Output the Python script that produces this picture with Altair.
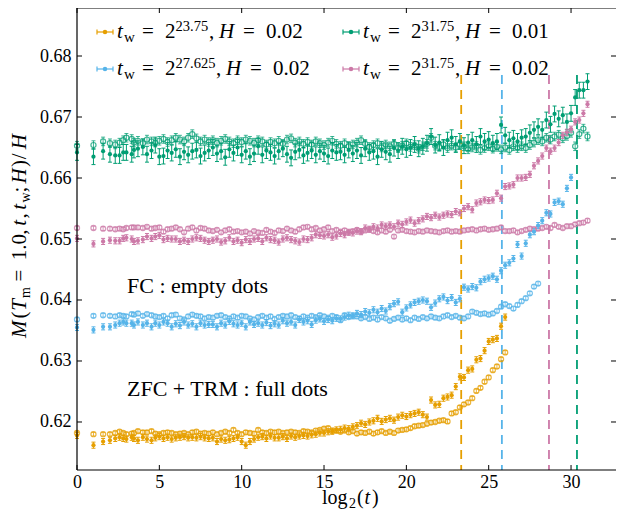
import altair as alt
import pandas as pd

FONT = "Liberation Serif"

# log2(t) sampling grid
X_ALL = [0, 1, 1.585, 2, 2.322, 2.585, 2.807, 3, 3.322, 3.459, 3.7, 4, 4.248, 4.524, 4.755,
         5, 5.25, 5.5, 5.75, 6, 6.25, 6.5, 6.75, 7, 7.25, 7.5, 7.75, 8, 8.25, 8.5, 8.75,
         9, 9.25, 9.5, 9.75, 10, 10.25, 10.5, 10.75, 11, 11.25, 11.5, 11.75, 12, 12.25, 12.5, 12.75,
         13, 13.25, 13.5, 13.75, 14, 14.25, 14.5, 14.75, 15, 15.25, 15.5, 15.75, 16, 16.25, 16.5, 16.75,
         17, 17.25, 17.5, 17.75, 18, 18.25, 18.5, 18.75, 19, 19.25, 19.5, 19.75, 20, 20.25, 20.5, 20.75,
         21, 21.25, 21.5, 21.75, 22, 22.25, 22.5, 22.75, 23, 23.25, 23.5, 23.75, 24, 24.25, 24.5, 24.75,
         25, 25.25, 25.5, 25.75, 26, 26.25, 26.5, 26.75, 27, 27.25, 27.5, 27.75, 28, 28.25, 28.5, 28.75,
         29, 29.25, 29.5, 29.75, 30, 30.25, 30.5, 30.75, 31]

GREEN_FC = [0.6653, 0.6654, 0.6660, 0.6657, 0.6655, 0.6658, 0.6662, 0.6666, 0.6664, 0.6658, 0.6661, 0.6657, 0.6663, 0.6660, 0.6658,
            0.6661, 0.6664, 0.6659, 0.6662,
            0.6666, 0.6663, 0.6660, 0.6666,
            0.6672, 0.6665, 0.6660, 0.6663,
            0.6659, 0.6662, 0.6658, 0.6661,
            0.6664, 0.6660, 0.6657, 0.6662,
            0.6659, 0.6663, 0.6661, 0.6658,
            0.6662, 0.6660, 0.6655, 0.6659,
            0.6657, 0.6661, 0.6656, 0.6663,
            0.6665, 0.6658, 0.6660, 0.6656,
            0.6659, 0.6655, 0.6660, 0.6657,
            0.6654, 0.6658, 0.6661, 0.6656,
            0.6653, 0.6657, 0.6652, 0.6655,
            0.6658, 0.6662, 0.6656, 0.6651,
            0.6654, 0.6657, 0.6650, 0.6655,
            0.6652, 0.6656, 0.6649, 0.6653,
            0.6657, 0.6651, 0.6654, 0.6648,
            0.6652, 0.6656, 0.6666, 0.6653,
            0.6651, 0.6655, 0.6649, 0.6653,
            0.6650, 0.6655, 0.6652, 0.6647,
            0.6650, 0.6653, 0.6646, 0.6649,
            0.6652, 0.6648, 0.6651, 0.6647,
            0.6650, 0.6646, 0.6652, 0.6649,
            0.6652, 0.6649, 0.6654, 0.6658,
            0.6662, 0.6660, 0.6666, 0.6663,
            0.6668, 0.6671, 0.6665, 0.6669,
            0.6674, 0.6652, 0.6672, 0.6681,
            0.6668]

GREEN_ZFC = [0.6642, 0.6635, 0.6644, 0.6639, 0.6637, 0.6637, 0.6642, 0.6642, 0.6639, 0.6646, 0.6648, 0.6651, 0.6639, 0.6645, 0.6654,
             0.6635, 0.6636, 0.6645, 0.6641,
             0.6647, 0.6635, 0.6643, 0.6638,
             0.6644, 0.6646, 0.6636, 0.6641,
             0.6645, 0.6650, 0.6640, 0.6644,
             0.6634, 0.6647, 0.6641, 0.6650,
             0.6638, 0.6644, 0.6635, 0.6640,
             0.6652, 0.6638, 0.6645, 0.6642,
             0.6636, 0.6644, 0.6648, 0.6639,
             0.6633, 0.6643, 0.6646, 0.6637,
             0.6641, 0.6645, 0.6638, 0.6644,
             0.6640, 0.6636, 0.6645, 0.6642,
             0.6643, 0.6638, 0.6646, 0.6640,
             0.6645, 0.6637, 0.6648, 0.6642,
             0.6644, 0.6635, 0.6647, 0.6643,
             0.6639, 0.6649, 0.6645, 0.6652,
             0.6647, 0.6650, 0.6655, 0.6648,
             0.6652, 0.6657, 0.6668, 0.6654,
             0.6658, 0.6650, 0.6662, 0.6666,
             0.6655, 0.6660, 0.6653, 0.6658,
             0.6662, 0.6655, 0.6668, 0.6660,
             0.6663, 0.6657, 0.6660, 0.6687,
             0.6670, 0.6662, 0.6665, 0.6660,
             0.6666, 0.6668, 0.6674, 0.6679,
             0.6684, 0.6679, 0.6695, 0.6688,
             0.6705, 0.6697, 0.6703, 0.6692,
             0.6706, 0.6732, 0.6744, 0.6744,
             0.6758]

PINK_FC = [0.6518, 0.6518, 0.6517, 0.6517, 0.6516, 0.6517, 0.6516, 0.6518, 0.6519, 0.6519, 0.6519, 0.6518, 0.6520, 0.6517, 0.6518,
           0.6519, 0.6512, 0.6516, 0.6517,
           0.6519, 0.6516, 0.6511, 0.6517,
           0.6519, 0.6514, 0.6518, 0.6517,
           0.6514, 0.6513, 0.6515, 0.6511,
           0.6514, 0.6516, 0.6512, 0.6513,
           0.6511, 0.6512, 0.6509, 0.6513,
           0.6511, 0.6510, 0.6515, 0.6512,
           0.6510, 0.6514, 0.6513, 0.6517,
           0.6514, 0.6512, 0.6516, 0.6519,
           0.6520, 0.6516, 0.6518, 0.6514,
           0.6516, 0.6519, 0.6513, 0.6515,
           0.6512, 0.6514, 0.6511, 0.6513,
           0.6515, 0.6512, 0.6514, 0.6516,
           0.6513, 0.6511, 0.6514, 0.6512,
           0.6515, 0.6504, 0.6514, 0.6515,
           0.6513, 0.6512, 0.6511, 0.6513,
           0.6512, 0.6514, 0.6513, 0.6512,
           0.6511, 0.6513, 0.6514, 0.6512,
           0.6513, 0.6512, 0.6514, 0.6515,
           0.6516, 0.6514, 0.6516, 0.6517,
           0.6515, 0.6516, 0.6517, 0.6519,
           0.6513, 0.6513, 0.6514, 0.6511,
           0.6513, 0.6515, 0.6517, 0.6516,
           0.6517, 0.6518, 0.6520, 0.6518,
           0.6523, 0.6520, 0.6518, 0.6521,
           0.6521, 0.6524, 0.6526, 0.6527,
           0.6530]

PINK_ZFC = [0.6501, 0.6492, 0.6496, 0.6498, 0.6497, 0.6497, 0.6501, 0.6502, 0.6500, 0.6496, 0.6497, 0.6499, 0.6504, 0.6501, 0.6504,
            0.6506, 0.6499, 0.6501, 0.6500,
            0.6500, 0.6496, 0.6498, 0.6496,
            0.6500, 0.6502, 0.6501, 0.6498,
            0.6496, 0.6498, 0.6500, 0.6495,
            0.6497, 0.6502, 0.6496, 0.6498,
            0.6494, 0.6499, 0.6496, 0.6500,
            0.6501, 0.6496, 0.6502, 0.6499,
            0.6498, 0.6495, 0.6500, 0.6502,
            0.6499, 0.6497, 0.6495, 0.6500,
            0.6499, 0.6502, 0.6507, 0.6506,
            0.6505, 0.6507, 0.6503, 0.6505,
            0.6509, 0.6507, 0.6511, 0.6510,
            0.6513, 0.6512, 0.6518, 0.6516,
            0.6520, 0.6518, 0.6523, 0.6521,
            0.6523, 0.6520, 0.6526, 0.6524,
            0.6528, 0.6531, 0.6526, 0.6530,
            0.6533, 0.6537, 0.6535, 0.6539,
            0.6536, 0.6539, 0.6541, 0.6540,
            0.6545, 0.6543, 0.6550, 0.6553,
            0.6548, 0.6559, 0.6561, 0.6564,
            0.6563, 0.6564, 0.6575, 0.6567,
            0.6586, 0.6587, 0.6589, 0.6600,
            0.6600, 0.6601, 0.6606, 0.6620,
            0.6628, 0.6636, 0.6649, 0.6644,
            0.6649, 0.6658, 0.6670, 0.6675,
            0.6680, 0.6692, 0.6695, 0.6706,
            0.6721]

BLUE_FC = [0.6368, 0.6374, 0.6375, 0.6374, 0.6373, 0.6375, 0.6374, 0.6373, 0.6377, 0.6376, 0.6378, 0.6374, 0.6377, 0.6375, 0.6373,
           0.6372, 0.6374, 0.6370, 0.6375,
           0.6376, 0.6370, 0.6368, 0.6373,
           0.6376, 0.6374, 0.6373, 0.6370,
           0.6372, 0.6371, 0.6374, 0.6375,
           0.6372, 0.6370, 0.6373, 0.6371,
           0.6374, 0.6373, 0.6370, 0.6368,
           0.6372, 0.6374, 0.6371, 0.6373,
           0.6369, 0.6372, 0.6374, 0.6373,
           0.6375, 0.6372, 0.6370, 0.6373,
           0.6371, 0.6374, 0.6372, 0.6375,
           0.6373, 0.6371, 0.6374, 0.6372,
           0.6367, 0.6375, 0.6372, 0.6374,
           0.6373, 0.6370, 0.6372, 0.6369,
           0.6371, 0.6368, 0.6372, 0.6370,
           0.6366, 0.6369, 0.6371, 0.6368,
           0.6370, 0.6367, 0.6371, 0.6369,
           0.6372, 0.6370, 0.6373, 0.6371,
           0.6370, 0.6373, 0.6375, 0.6372,
           0.6374, 0.6371, 0.6370, 0.6373,
           0.6381, 0.6379, 0.6377, 0.6378,
           0.6376, 0.6378, 0.6382, 0.6389,
           0.6393, 0.6390, 0.6386, 0.6392,
           0.6398, 0.6403, 0.6411, 0.6422,
           0.6427]

BLUE_ZFC = [0.6355, 0.6351, 0.6356, 0.6356, 0.6359, 0.6362, 0.6364, 0.6362, 0.6362, 0.6359, 0.6364, 0.6359, 0.6362, 0.6356, 0.6362,
            0.6359, 0.6364, 0.6362, 0.6356,
            0.6361, 0.6358, 0.6364, 0.6359,
            0.6361, 0.6356, 0.6362, 0.6359,
            0.6360, 0.6360, 0.6356, 0.6362,
            0.6359, 0.6365, 0.6361, 0.6359,
            0.6362, 0.6356, 0.6364, 0.6360,
            0.6362, 0.6359, 0.6363, 0.6358,
            0.6361, 0.6359, 0.6366, 0.6362,
            0.6364, 0.6359, 0.6368, 0.6364,
            0.6366, 0.6360, 0.6367, 0.6369,
            0.6365, 0.6368, 0.6366, 0.6370,
            0.6369, 0.6372, 0.6375, 0.6374,
            0.6378, 0.6376, 0.6381, 0.6379,
            0.6384, 0.6380, 0.6386, 0.6382,
            0.6389, 0.6394, 0.6397, 0.6380,
            0.6387, 0.6392, 0.6396, 0.6398,
            0.6400, 0.6398, 0.6388, 0.6395,
            0.6402, 0.6405, 0.6399, 0.6404,
            0.6396, 0.6402, 0.6421, 0.6418,
            0.6422, 0.6420, 0.6430, 0.6434,
            0.6436, 0.6439, 0.6434, 0.6448,
            0.6457, 0.6461, 0.6468, 0.6491,
            0.6472, 0.6493, 0.6507, 0.6512,
            0.6522, 0.6530, 0.6543, 0.6541,
            0.6560, 0.6562, 0.6557, 0.6583,
            0.6601]

ORANGE_FC = [0.6182, 0.6180, 0.6180, 0.6180, 0.6182, 0.6184, 0.6182, 0.6180, 0.6181, 0.6182, 0.6185, 0.6183, 0.6183, 0.6185, 0.6181,
             0.6180, 0.6182, 0.6183, 0.6182,
             0.6180, 0.6181, 0.6182, 0.6180,
             0.6183, 0.6184, 0.6181, 0.6182,
             0.6181, 0.6183, 0.6180, 0.6182,
             0.6184, 0.6182, 0.6187, 0.6182,
             0.6180, 0.6183, 0.6182, 0.6181,
             0.6187, 0.6183, 0.6182, 0.6184,
             0.6183, 0.6184, 0.6182, 0.6183,
             0.6184, 0.6183, 0.6182, 0.6185,
             0.6184, 0.6183, 0.6186, 0.6187,
             0.6189, 0.6190, 0.6185, 0.6186,
             0.6184, 0.6186, 0.6183, 0.6185,
             0.6181, 0.6183, 0.6182, 0.6184,
             0.6181, 0.6183, 0.6185, 0.6182,
             0.6184, 0.6182, 0.6186, 0.6187,
             0.6188, 0.6190, 0.6193, 0.6194,
             0.6195, 0.6197, 0.6199, 0.6200,
             0.6202, 0.6203, 0.6201, 0.6214,
             0.6216, 0.6224, 0.6229, 0.6232,
             0.6239, 0.6251, 0.6256, 0.6266,
             0.6273, 0.6285, 0.6291, 0.6303,
             0.6314]

ORANGE_ZFC = [0.6178, 0.6162, 0.6168, 0.6170, 0.6173, 0.6175, 0.6173, 0.6172, 0.6175, 0.6173, 0.6170, 0.6175, 0.6172, 0.6170, 0.6174,
              0.6176, 0.6173, 0.6175, 0.6172,
              0.6174, 0.6175, 0.6176, 0.6174,
              0.6175, 0.6174, 0.6176, 0.6174,
              0.6173, 0.6174, 0.6168, 0.6172,
              0.6170, 0.6171, 0.6173, 0.6175,
              0.6168, 0.6162, 0.6168, 0.6172,
              0.6175, 0.6176, 0.6173, 0.6177,
              0.6174, 0.6174, 0.6176, 0.6173,
              0.6177, 0.6175, 0.6177, 0.6178,
              0.6177, 0.6179, 0.6180, 0.6182,
              0.6182, 0.6184, 0.6185, 0.6187,
              0.6188, 0.6190, 0.6189, 0.6192,
              0.6194, 0.6198, 0.6196, 0.6200,
              0.6202, 0.6206, 0.6201, 0.6204,
              0.6206, 0.6203, 0.6208, 0.6211,
              0.6209, 0.6212, 0.6214, 0.6216,
              0.6212, 0.6208, 0.6236, 0.6228,
              0.6229, 0.6239, 0.6241, 0.6244,
              0.6258, 0.6274, 0.6273, 0.6285,
              0.6287, 0.6302, 0.6304, 0.6317,
              0.6332, 0.6335, 0.6337, 0.6357,
              0.6372]

COLORS = {"orange": "#E69F00", "blue": "#56B4E9", "green": "#009E73", "pink": "#CC79A7"}
# (name, FC values, ZFC values, FC error, ZFC error)
SERIES = [("orange", ORANGE_FC, ORANGE_ZFC, 0.0003, 0.0005),
          ("blue", BLUE_FC, BLUE_ZFC, 0.0003, 0.0005),
          ("green", GREEN_FC, GREEN_ZFC, 0.0007, 0.0013),
          ("pink", PINK_FC, PINK_ZFC, 0.0003, 0.0005)]

VLINE_X = [23.33, 25.80, 28.66, 30.36]
VLINE_COLOR = ["orange", "blue", "pink", "green"]
VLINE_TOP = 0.6769

X_TICKS = [0, 5, 10, 15, 20, 25, 30]
Y_TICKS = [0.62, 0.63, 0.64, 0.65, 0.66, 0.67, 0.68]
X_DOMAIN = [0, 32.73]
Y_DOMAIN = [0.61213, 0.68787]

LEGEND = [("23.75", "0.02", "orange"), ("27.625", "0.02", "blue"),
          ("31.75", "0.01", "green"), ("31.75", "0.02", "pink")]

W, H = 539, 462

rows = []
for name, fc, zfc, efc, ezfc in SERIES:
    for kind, vals, e in (("FC", fc, efc), ("ZFC", zfc, ezfc)):
        for xv, yv in zip(X_ALL, vals):
            rows.append({"x": xv, "y": yv, "lo": yv - e, "hi": yv + e,
                         "color": COLORS[name], "kind": kind,
                         "op": 0.75 if kind == "FC" else 1.0})
df = pd.DataFrame(rows)
fc_df = df[df.kind == "FC"]
zfc_df = df[df.kind == "ZFC"]

xscale = alt.Scale(domain=X_DOMAIN, nice=False, zero=False)
yscale = alt.Scale(domain=Y_DOMAIN, nice=False, zero=False)
xaxis = alt.Axis(values=X_TICKS, title=None, labelPadding=3, labelFlush=False,
                 ticks=False, tickSize=0, domain=False, grid=False)
yaxis = alt.Axis(values=Y_TICKS, title=None, format=".2f", labelPadding=6,
                 ticks=False, tickSize=0, domain=False, grid=False)

X = alt.X("x:Q", scale=xscale, axis=xaxis)
COL = alt.Color("color:N", scale=None)

vl_df = pd.DataFrame({"x": VLINE_X, "top": [VLINE_TOP] * 4, "bot": [Y_DOMAIN[0]] * 4,
                      "color": [COLORS[c] for c in VLINE_COLOR]})
vlines = alt.Chart(vl_df).mark_rule(strokeDash=[9, 6], strokeWidth=1.8).encode(
    x=X, y=alt.Y("top:Q", scale=yscale, axis=yaxis), y2="bot:Q", color=COL)

def errs(d, width):
    r = alt.Chart(d).mark_rule(strokeWidth=1).encode(
        x=X, y=alt.Y("lo:Q", scale=yscale, axis=yaxis), y2="hi:Q", color=COL,
        opacity=alt.Opacity("op:Q", scale=None))
    c1 = alt.Chart(d).mark_tick(orient="horizontal", size=width, thickness=1).encode(
        x=X, y=alt.Y("lo:Q", scale=yscale, axis=yaxis), color=COL,
        opacity=alt.Opacity("op:Q", scale=None))
    c2 = alt.Chart(d).mark_tick(orient="horizontal", size=width, thickness=1).encode(
        x=X, y=alt.Y("hi:Q", scale=yscale, axis=yaxis), color=COL,
        opacity=alt.Opacity("op:Q", scale=None))
    return [r, c1, c2]

fc_pts = alt.Chart(fc_df).mark_point(shape="circle", filled=False, size=26, strokeWidth=1.2).encode(
    x=X, y=alt.Y("y:Q", scale=yscale, axis=yaxis), color=COL, opacity=alt.Opacity("op:Q", scale=None))
zfc_pts = alt.Chart(zfc_df).mark_circle(size=18, opacity=1).encode(
    x=X, y=alt.Y("y:Q", scale=yscale, axis=yaxis), color=COL)

xt = pd.DataFrame({"x": X_TICKS})
yt = pd.DataFrame({"y": Y_TICKS})
tick_bottom = alt.Chart(xt).mark_rule(color="black", strokeWidth=1).encode(
    x=X, y=alt.value(H), y2=alt.value(H - 5))
tick_top = alt.Chart(xt).mark_rule(color="black", strokeWidth=1).encode(
    x=X, y=alt.value(0), y2=alt.value(5))
tick_left = alt.Chart(yt).mark_rule(color="black", strokeWidth=1).encode(
    y=alt.Y("y:Q", scale=yscale, axis=yaxis), x=alt.value(0), x2=alt.value(5))
tick_right = alt.Chart(yt).mark_rule(color="black", strokeWidth=1).encode(
    y=alt.Y("y:Q", scale=yscale, axis=yaxis), x=alt.value(W), x2=alt.value(W - 5))

# frame: left, top, bottom (right edge lies at the window border)
frame = pd.DataFrame({"a": [0, 0, 0], "b": [0, W, W], "c": [0, 0, H], "d": [H, 0, H]})
frame_lines = alt.Chart(frame).mark_rule(color="black", strokeWidth=1.2).encode(
    x=alt.X("a:Q", scale=None, axis=None), x2="b:Q",
    y=alt.Y("c:Q", scale=None, axis=None), y2="d:Q")

# ---- text pieces (plot pixel coordinates; plot top = page y 8) ----
pieces = []
def add(px, py, txt, fs=21, ang=0, it=False):
    pieces.append({"px": px, "py": py, "txt": txt, "fs": fs, "ang": ang, "it": it})

leg_sym = []
cols = [40, 286]
rows_y = [30, 67]
for k, (ex, hv, cname) in enumerate(LEGEND):
    bx = cols[k // 2]
    by = rows_y[k % 2]
    extra = 7 if len(ex) > 5 else 0
    add(bx, by, "t", 21, 0, True)
    add(bx + 7, by + 3.5, "w", 15)
    add(bx + 25, by, "=", 21)
    add(bx + 48, by, "2", 21)
    add(bx + 58.5, by - 7.5, ex, 14.5)
    add(bx + 92 + extra, by, ",", 21)
    add(bx + 102 + extra, by, "H", 21, 0, True)
    add(bx + 126 + extra, by, "=", 21)
    add(bx + 149 + extra, by, hv, 21)
    cx = bx - 12
    leg_sym.append({"cx": cx, "x1": cx - 8, "x2": cx + 8, "y": by - 6,
                    "ya": by - 8.5, "yb": by - 3.5, "color": COLORS[cname]})

# annotations
add(50, 285, "FC : empty dots", 22)
add(50, 388, "ZFC + TRM : full dots", 22)

# x title: log2(t)
add(245, 496, "log", 20)
add(272, 500, "2", 14)
add(280, 496, "(", 20)
add(287.5, 496, "t", 20, 0, True)
add(295, 496, ")", 20)

# y title: M(T_m = 1.0, t, t_w; H)/H  (rotated, reads upward)
YB = -51
Y0 = 330
for d, txt, fs, it, sub in [(0, "M", 21, True, 0), (19.4, "(", 21, False, 0), (27.2, "T", 21, True, 0),
                            (40, "m", 14, False, 4), (56.5, "=", 21, False, 0), (77.7, "1.0", 21, False, 0),
                            (103.3, ",", 21, False, 0), (112.2, "t", 21, True, 0), (119.4, ",", 21, False, 0),
                            (128.3, "t", 21, True, 0), (135.5, "w", 14, False, 4), (145.5, ";", 21, False, 0),
                            (154.4, "H", 21, True, 0), (171, ")", 21, False, 0), (178.8, "/", 21, False, 0),
                            (188.8, "H", 21, True, 0)]:
    add(YB + sub, Y0 - d, txt, fs, 270, it)

tdf = pd.DataFrame(pieces)

def text_layer(d, italic):
    return alt.Chart(d).mark_text(font=FONT, align="left", baseline="alphabetic",
                                  fontStyle="italic" if italic else "normal", color="black").encode(
        x=alt.X("px:Q", scale=None, axis=None),
        y=alt.Y("py:Q", scale=None, axis=None),
        text=alt.Text("txt:N"),
        size=alt.Size("fs:Q", scale=None, legend=None),
        angle=alt.Angle("ang:Q", scale=None))

txt_it = text_layer(tdf[tdf.it], True)
txt_rm = text_layer(tdf[~tdf.it], False)

ls = pd.DataFrame(leg_sym)
leg_line = alt.Chart(ls).mark_rule(strokeWidth=1.2).encode(
    x=alt.X("x1:Q", scale=None, axis=None), x2="x2:Q",
    y=alt.Y("y:Q", scale=None, axis=None), color=COL)
leg_cap1 = alt.Chart(ls).mark_rule(strokeWidth=1.2).encode(
    x=alt.X("x1:Q", scale=None, axis=None), y=alt.Y("ya:Q", scale=None, axis=None), y2="yb:Q", color=COL)
leg_cap2 = alt.Chart(ls).mark_rule(strokeWidth=1.2).encode(
    x=alt.X("x2:Q", scale=None, axis=None), y=alt.Y("ya:Q", scale=None, axis=None), y2="yb:Q", color=COL)
leg_dot = alt.Chart(ls).mark_circle(size=20, opacity=1).encode(
    x=alt.X("cx:Q", scale=None, axis=None), y=alt.Y("y:Q", scale=None, axis=None), color=COL)

layers = [vlines] + errs(fc_df, 4) + errs(zfc_df, 4) + [fc_pts, zfc_pts,
          tick_bottom, tick_top, tick_left, tick_right, frame_lines,
          txt_it, txt_rm, leg_line, leg_cap1, leg_cap2, leg_dot]

chart = alt.layer(*layers).properties(
    width=W, height=H,
    padding={"left": 69, "top": 0, "right": 0, "bottom": 41},
    autosize=alt.AutoSizeParams(type="none"),
).configure_view(stroke=None).configure_axis(
    labelFont=FONT, labelFontSize=18, labelColor="black")

chart.save("out.html", embed_options={"renderer": "svg", "actions": False})
